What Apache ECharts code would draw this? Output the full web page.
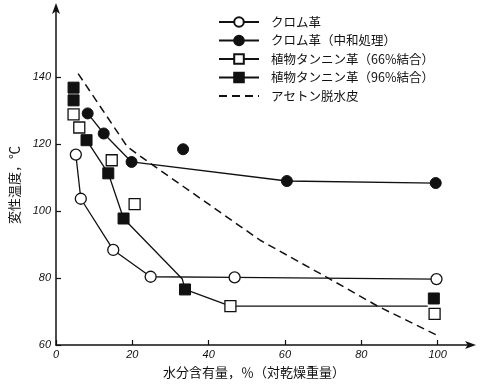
<!DOCTYPE html>
<html>
<head>
<meta charset="utf-8">
<script src="https://cdn.jsdelivr.net/npm/echarts@6/dist/echarts.min.js"></script>
<style>
html,body{margin:0;padding:0;background:#fff;}
#c{width:480px;height:389px;}
</style>
</head>
<body>
<div id="c"></div>
<script>
// ---- data ----
const xTicks = [0, 20, 40, 60, 80, 100];
const yTicks = [60, 80, 100, 120, 140];

const seriesNames = [
  'クロム革',
  'クロム革（中和処理）',
  '植物タンニン革（66%結合）',
  '植物タンニン革（96%結合）',
  'アセトン脱水皮'
];

// クロム革 (open circles, connected)
const chromeX = [5.2, 6.5, 15.0, 24.8, 46.8, 99.7];
const chromeY = [116.9, 103.7, 88.4, 80.4, 80.2, 79.7];

// クロム革（中和処理）(filled circles, connected) + one isolated point
const chromeNeutX = [8.3, 12.5, 19.8, 60.5, 99.5];
const chromeNeutY = [129.2, 123.2, 114.7, 109.0, 108.4];
const chromeNeutOutlierX = [33.3];
const chromeNeutOutlierY = [118.5];

// 植物タンニン革（66%結合）(open squares)
const veg66X = [4.6, 6.1, 14.6, 20.6, 45.7, 99.2];
const veg66Y = [128.9, 125.0, 115.2, 102.1, 71.6, 69.3];

// 植物タンニン革（96%結合）(filled squares)
const veg96X = [4.6, 4.6, 8.0, 13.7, 17.7, 33.8, 99.0];
const veg96Y = [136.9, 133.1, 121.2, 111.3, 97.8, 76.6, 73.9];

// drawn curve for the vegetable-tanned leather
const vegCurveX = [8.0, 13.7, 17.7, 33.1, 33.8, 45.7, 97.4];
const vegCurveY = [121.2, 111.3, 97.8, 79.7, 76.6, 71.6, 71.6];

// アセトン脱水皮 (dashed curve)
const acetoneX = [5.8, 18.7, 24.8, 53.5, 71.8, 84.3, 99.7];
const acetoneY = [141.1, 119.2, 114.2, 91.3, 79.7, 71.6, 63.0];

// ---- build chart ----
const zip = (xs, ys) => xs.map((x, i) => [x, ys[i]]);
const separated = (xs, ys) => {
  const out = [];
  xs.forEach((x, i) => { if (i) out.push(null); out.push([x, ys[i]]); });
  return out;
};

const CJK = '"Noto Sans CJK JP", "Noto Sans", sans-serif';
const NUM = '"Liberation Sans", "DejaVu Sans", sans-serif';
const black = '#111';
const LW = 1.3;
const SYM = 11;

const chart = echarts.init(document.getElementById('c'), null, {renderer: 'canvas'});

const legendData = seriesNames.map((n, i) =>
  i === 4 ? {name: n, itemStyle: {opacity: 0, color: black}} : {name: n});

const option = {
  animation: false,
  backgroundColor: '#fff',
  grid: {left: 55, right: 8, top: 7, bottom: 44, containLabel: false},
  xAxis: {
    type: 'value', min: 0, max: 109,
    name: '水分含有量，％（対乾燥重量）',
    nameLocation: 'middle', nameGap: 21,
    nameTextStyle: {fontFamily: CJK, fontSize: 13, color: black, padding: [0, 20, 0, 0]},
    axisLine: {show: true, onZero: false, lineStyle: {color: black, width: 1.5},
      symbol: ['none', 'arrow'], symbolSize: [6, 11], symbolOffset: [0, 4]},
    axisTick: {show: true, inside: true, length: 5, customValues: xTicks, lineStyle: {color: black, width: 1.2}},
    axisLabel: {customValues: xTicks, margin: 4, fontFamily: NUM, fontStyle: 'italic', fontSize: 11, color: black},
    splitLine: {show: false}
  },
  yAxis: {
    type: 'value', min: 60, max: 161,
    name: '変性温度，℃',
    nameLocation: 'middle', nameGap: 35, nameRotate: 90,
    nameTextStyle: {fontFamily: CJK, fontSize: 13, color: black, padding: [0, 18, 0, 0]},
    axisLine: {show: true, onZero: false, lineStyle: {color: black, width: 1.5},
      symbol: ['none', 'arrow'], symbolSize: [6, 11], symbolOffset: [0, 4]},
    axisTick: {show: true, inside: true, length: 5, customValues: yTicks, lineStyle: {color: black, width: 1.2}},
    axisLabel: {customValues: yTicks, margin: 5, fontFamily: NUM, fontStyle: 'italic', fontSize: 11, color: black},
    splitLine: {show: false}
  },
  legend: {
    orient: 'vertical', left: 213, top: 10,
    itemWidth: 40, itemHeight: 12, itemGap: 4.5,
    data: legendData,
    textStyle: {fontFamily: CJK, fontSize: 12.5, color: black, lineHeight: 14, padding: [0, 0, 0, 7]},
    selectedMode: false
  },
  series: [
    {
      name: seriesNames[0], type: 'line', z: 5,
      data: zip(chromeX, chromeY),
      symbol: 'circle', symbolSize: SYM, showAllSymbol: true,
      itemStyle: {color: '#fff', borderColor: black, borderWidth: 1.3},
      lineStyle: {color: black, width: LW}
    },
    {
      name: seriesNames[1], type: 'line', z: 5, connectNulls: false,
      data: zip(chromeNeutX, chromeNeutY).concat([null], zip(chromeNeutOutlierX, chromeNeutOutlierY)),
      symbol: 'circle', symbolSize: SYM, showAllSymbol: true,
      itemStyle: {color: black, borderColor: black, borderWidth: 1},
      lineStyle: {color: black, width: LW}
    },
    {
      name: seriesNames[2], type: 'line', z: 6, connectNulls: false,
      data: separated(veg66X, veg66Y),
      symbol: 'rect', symbolSize: SYM, showAllSymbol: true,
      itemStyle: {color: '#fff', borderColor: black, borderWidth: 1.3},
      lineStyle: {color: black, width: LW}
    },
    {
      name: seriesNames[3], type: 'line', z: 6, connectNulls: false,
      data: separated(veg96X, veg96Y),
      symbol: 'rect', symbolSize: SYM, showAllSymbol: true,
      itemStyle: {color: black, borderColor: black, borderWidth: 1},
      lineStyle: {color: black, width: LW}
    },
    {
      name: seriesNames[4], type: 'line', z: 3,
      data: zip(acetoneX, acetoneY),
      symbol: 'none',
      itemStyle: {color: black},
      lineStyle: {color: black, width: 1.5, type: [8, 5]}
    },
    {
      name: 'vegCurve', type: 'line', z: 2,
      data: zip(vegCurveX, vegCurveY),
      symbol: 'none', silent: true,
      lineStyle: {color: black, width: LW}
    }
  ]
};
chart.setOption(option);
</script>
</body>
</html>
